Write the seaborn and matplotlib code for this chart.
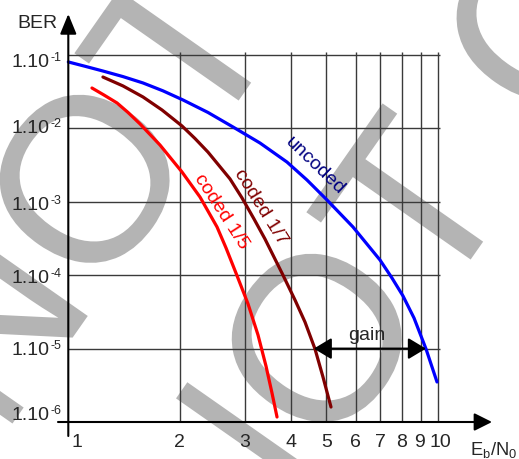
import numpy as np
import pandas as pd
import matplotlib
matplotlib.use("Agg")
import matplotlib.pyplot as plt
import seaborn as sns
from matplotlib.textpath import TextPath
from matplotlib.patches import PathPatch, ArrowStyle
from matplotlib.font_manager import FontProperties
from matplotlib.transforms import Affine2D, IdentityTransform

# ---------------- data ----------------
ebn0_uncoded = [1.0, 1.110, 1.241, 1.406, 1.593, 1.804, 2.044, 2.388, 2.792, 3.304, 3.908, 4.428,
                5.015, 5.897, 6.98, 7.52, 8.056, 8.628, 9.297, 9.957]
ber_uncoded = [8.04e-2, 7.02e-2, 6.05e-2, 5.08e-2, 4.16e-2, 3.25e-2, 2.44e-2, 1.65e-2, 1.045e-2,
               6.32e-3, 3.48e-3, 1.98e-3, 1.06e-3, 4.54e-4, 1.61e-4, 9.16e-5, 5.21e-5, 2.61e-5,
               9.9e-6, 3.51e-6]

ebn0_coded17 = [1.241, 1.406, 1.593, 1.794, 2.031, 2.203, 2.388, 2.740, 2.953, 3.182, 3.408, 3.788,
                4.109, 4.373, 4.654, 4.892, 5.142]
ber_coded17 = [5.01e-2, 3.79e-2, 2.68e-2, 1.78e-2, 1.08e-2, 7.28e-3, 4.76e-3, 2.05e-3, 1.13e-3,
               5.84e-4, 3.11e-4, 1.07e-4, 4.59e-5, 2.30e-5, 9.9e-6, 4.10e-6, 1.60e-6]

ebn0_coded15 = [1.159, 1.249, 1.355, 1.451, 1.564, 1.771, 2.031, 2.273, 2.527, 2.673, 2.844, 3.066,
                3.263, 3.429, 3.560, 3.673]
ber_coded15 = [3.55e-2, 2.85e-2, 2.22e-2, 1.65e-2, 1.15e-2, 5.94e-3, 2.55e-3, 1.16e-3, 4.54e-4,
               2.35e-4, 1.07e-4, 4.06e-5, 1.53e-5, 5.79e-6, 2.48e-6, 1.17e-6]

series_names = ["uncoded", "coded 1/7", "coded 1/5"]
series_colors = ["#0000ff", "#800000", "#ff0000"]
label_colors = ["#000080", "#800000", "#ff0000"]

x_ticks = [1, 2, 3, 4, 5, 6, 7, 8, 9, 10]
x_tick_labels = ["1", "2", "3", "4", "5", "6", "7", "8", "9", "10"]
y_ticks = [1e-1, 1e-2, 1e-3, 1e-4, 1e-5, 1e-6]
y_tick_mantissa = "1.10"
y_tick_exponents = ["-1", "-2", "-3", "-4", "-5", "-6"]

gain_ber = 1e-5
gain_from = 4.62
gain_to = 9.29
gain_label = "gain"
x_title = "E$_\\mathregular{b}$/N$_\\mathregular{0}$"
y_title = "BER"
watermark_letters = ["N", "O", "T", "O"]

# ---------------- style ----------------
sns.set_style("white")
plt.rcParams["font.family"] = ["Liberation Sans", "DejaVu Sans"]
plt.rcParams["mathtext.fontset"] = "custom"
plt.rcParams["mathtext.rm"] = "Liberation Sans"
plt.rcParams["mathtext.it"] = "Liberation Sans:italic"
plt.rcParams["mathtext.bf"] = "Liberation Sans:bold"

W, H = 519, 460
fig = plt.figure(figsize=(W / 100, H / 100), dpi=100)
ax = fig.add_axes([0, 0, 1, 1])
ax.set_xscale("log")
ax.set_yscale("log")

X0, XD = 68.3, 369.4   # pixel of Eb/N0 = 1, pixels per decade
Y6, YD = 423.0, 73.4   # pixel of BER = 1e-6, pixels per decade


def px(xp, yp):
    return 10 ** ((xp - X0) / XD), 10 ** (-6 + (Y6 - yp) / YD)


ax.set_xlim(px(0, 0)[0], px(W, 0)[0])
ax.set_ylim(px(0, H)[1], px(0, 0)[1])
ax.axis("off")

# ---------------- watermark ----------------
fp = FontProperties(family="Liberation Sans")
EM = 235
ang = 55
u = np.array([np.cos(np.radians(ang)), -np.sin(np.radians(ang))])
offsets_em = [-0.75, 0.0, 0.695, 1.668]
for (ox, oy) in [(85, 180), (317, 339)]:
    for ch, off in zip(watermark_letters, offsets_em):
        cx, cy = ox + off * EM * u[0], oy + off * EM * u[1]
        tp = TextPath((0, 0), ch, size=EM, prop=fp)
        bb = tp.get_extents()
        tr = (Affine2D().translate(-(bb.x0 + bb.x1) / 2, -(bb.y0 + bb.y1) / 2)
              .rotate_deg(ang).translate(cx, H - cy))
        patch = PathPatch(tr.transform_path(tp), transform=IdentityTransform(),
                          fc="#b4b4b4", ec="none", zorder=0.5, clip_on=False)
        ax.add_artist(patch)

# ---------------- grid ----------------
grid_color = "#3a3a3a"
ax.vlines(x_ticks[1:], ymin=y_ticks[-1], ymax=px(0, 53)[1], color=grid_color, lw=1.0, zorder=1)
ax.hlines(y_ticks[:-1], xmin=x_ticks[0], xmax=px(440, 0)[0], color=grid_color, lw=1.0, zorder=1)

# ---------------- curves ----------------
df = pd.concat([
    pd.DataFrame({"EbN0": ebn0_uncoded, "BER": ber_uncoded, "curve": series_names[0]}),
    pd.DataFrame({"EbN0": ebn0_coded17, "BER": ber_coded17, "curve": series_names[1]}),
    pd.DataFrame({"EbN0": ebn0_coded15, "BER": ber_coded15, "curve": series_names[2]}),
], ignore_index=True)
sns.lineplot(data=df, x="EbN0", y="BER", hue="curve", hue_order=series_names,
             palette=dict(zip(series_names, series_colors)), sort=False, estimator=None,
             legend=False, lw=2.3, ax=ax, zorder=3)
for ln in ax.get_lines():
    ln.set_solid_joinstyle("round")
ax.axis("off")

# ---------------- axes with arrows ----------------
ax.annotate("", xy=(x_ticks[0], px(0, 15)[1]), xytext=(x_ticks[0], px(0, 437)[1]),
            arrowprops=dict(arrowstyle=ArrowStyle("-|>", head_length=1.22, head_width=0.5),
                            mutation_scale=10, lw=1.5, color="black", shrinkA=0, shrinkB=0),
            zorder=5)
ax.annotate("", xy=(px(492, 0)[0], y_ticks[-1]), xytext=(px(58, 0)[0], y_ticks[-1]),
            arrowprops=dict(arrowstyle=ArrowStyle("-|>", head_length=1.08, head_width=0.54),
                            mutation_scale=10, lw=1.5, color="black", shrinkA=0, shrinkB=0),
            zorder=5)

# gain arrow
ax.annotate("", xy=(gain_to, gain_ber), xytext=(gain_from, gain_ber),
            arrowprops=dict(arrowstyle=ArrowStyle("<|-|>", head_length=1.08, head_width=0.65),
                            mutation_scale=10, lw=1.5, color="black", shrinkA=0, shrinkB=0),
            zorder=5)
ax.text(*px(367, 340), gain_label, fontsize=14, ha="center", va="baseline", zorder=6)

# ---------------- tick labels ----------------
y_base_off = [11, 4, 7, 7, 5, -3]
for val, ex, dy in zip(y_ticks, y_tick_exponents, y_base_off):
    ax.annotate(y_tick_mantissa, xy=(x_ticks[0], val), xytext=(-19, -dy),
                textcoords="offset pixels", ha="right", va="baseline", fontsize=14, zorder=6)
    ax.annotate(ex, xy=(x_ticks[0], val), xytext=(-18, -dy + 6),
                textcoords="offset pixels", ha="left", va="baseline", fontsize=9, zorder=6)

x_dx = [9, 0, 0, 0, 0, 0, 0, 0, -1, 3]
for val, lab, dx in zip(x_ticks, x_tick_labels, x_dx):
    ax.annotate(lab, xy=(val, y_ticks[-1]), xytext=(dx, -24.5), textcoords="offset pixels",
                ha="center", va="baseline", fontsize=14, zorder=6)

ax.text(*px(17, 28), y_title, fontsize=14, ha="left", va="baseline", zorder=6)
ax.text(*px(470, 455), x_title, fontsize=13.2, ha="left", va="baseline", zorder=6)

# ---------------- curve labels ----------------
label_pos = [(315, 166, -44), (261, 207, -58), (221, 212, -57)]
for name, col, (lx, ly, rot) in zip(series_names, label_colors, label_pos):
    ax.text(*px(lx, ly), name, color=col, fontsize=14, rotation=rot, rotation_mode="anchor",
            ha="center", va="center", zorder=6)

fig.savefig("out.png", dpi=100)
